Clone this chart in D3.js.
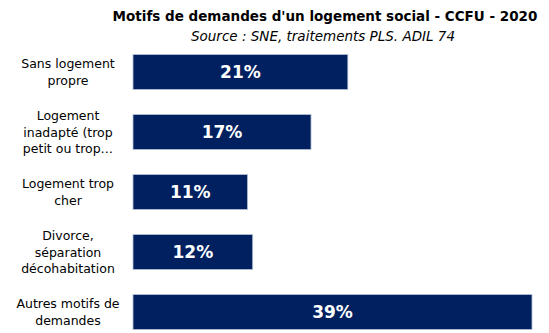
<!DOCTYPE html>
<html><head><meta charset="utf-8">
<script src="https://cdn.jsdelivr.net/npm/d3@7"></script>
<style>
html,body{margin:0;padding:0;background:#fff;}
svg{display:block;}
</style>
</head><body>
<svg id="chart" width="549" height="333"></svg>
<script>
const title = "Motifs de demandes d'un logement social - CCFU - 2020";
const subtitle = "Source : SNE, traitements PLS. ADIL 74";
const categories = [
  "Sans logement propre",
  "Logement inadapté (trop petit ou trop…",
  "Logement trop cher",
  "Divorce, séparation décohabitation",
  "Autres motifs de demandes"
];
const categoryLines = [
  ["Sans logement", "propre"],
  ["Logement", "inadapté (trop", "petit ou trop…"],
  ["Logement trop", "cher"],
  ["Divorce,", "séparation", "décohabitation"],
  ["Autres motifs de", "demandes"]
];
const values = [21, 17.4, 11.2, 11.7, 39];

const svg = d3.select("#chart");
const font = "'DejaVu Sans', sans-serif";

const x = d3.scaleLinear().domain([0, 39]).range([133, 532]);
const y = d3.scaleBand().domain(categories).range([42, 342])
  .paddingInner(25/60).paddingOuter(25/120);

svg.append("text")
  .attr("x", 325).attr("y", 21)
  .attr("text-anchor", "middle")
  .attr("font-family", font).attr("font-weight", "bold").attr("font-size", 13.5)
  .attr("fill", "#000")
  .text(title);

svg.append("text")
  .attr("x", 323).attr("y", 41)
  .attr("text-anchor", "middle")
  .attr("font-family", font).attr("font-style", "italic").attr("font-size", 13.5)
  .attr("fill", "#000")
  .text(subtitle);

svg.append("g").selectAll("rect")
  .data(values)
  .join("rect")
  .attr("x", x(0))
  .attr("y", (d, i) => y(categories[i]))
  .attr("width", d => x(d) - x(0))
  .attr("height", y.bandwidth())
  .attr("fill", "#002060")
  .attr("stroke", "#b7c2d6")
  .attr("stroke-width", 0.8);

svg.append("g").selectAll("text")
  .data(values)
  .join("text")
  .attr("x", d => (x(0) + x(d)) / 2)
  .attr("y", (d, i) => y(categories[i]) + y.bandwidth() / 2 + 6)
  .attr("text-anchor", "middle")
  .attr("font-family", font).attr("font-weight", "bold").attr("font-size", 17)
  .attr("fill", "#fff")
  .text(d => Math.round(d) + "%");

const lh = 16.5;
const lab = svg.append("g").selectAll("text")
  .data(categories)
  .join("text")
  .attr("font-family", font).attr("font-size", 12.5)
  .attr("text-anchor", "middle")
  .attr("fill", "#000");
lab.each(function(c, i) {
  const lines = categoryLines[i];
  const cy = y(c) + y.bandwidth() / 2;
  const y0 = cy - (lines.length - 1) * lh / 2 + 4.5;
  d3.select(this).selectAll("tspan")
    .data(lines)
    .join("tspan")
    .attr("x", 68)
    .attr("y", (d, j) => y0 + j * lh)
    .text(d => d);
});
</script>
</body></html>
